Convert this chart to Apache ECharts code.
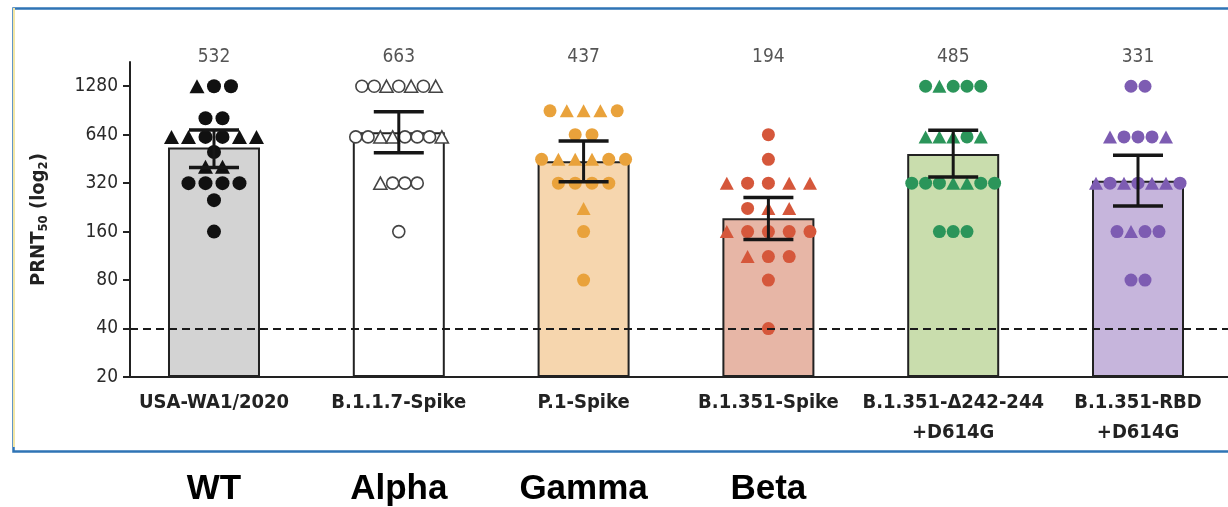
<!DOCTYPE html>
<html>
<head>
<meta charset="utf-8">
<script src="https://cdn.jsdelivr.net/npm/echarts@6/dist/echarts.min.js"></script>
<style>
  html, body { margin: 0; padding: 0; background: #ffffff; }
  #chart { width: 1228px; height: 507px; }
</style>
</head>
<body>
<div id="chart"></div>
<script>
// ---------------- DATA ----------------
const categories = ['USA-WA1/2020', 'B.1.1.7-Spike', 'P.1-Spike', 'B.1.351-Spike', 'B.1.351-\u0394242-244\n+D614G', 'B.1.351-RBD\n+D614G'];
const variantNames = ['WT', 'Alpha', 'Gamma', 'Beta'];
const meanTiters = [532, 663, 437, 194, 485, 331];
const errLow = [400, 494, 326, 143, 350, 231];
const errHigh = [684, 887, 585, 261, 682, 477];
const tickValues = [20, 40, 80, 160, 320, 640, 1280];
const thresholdTiter = 40;

// individual titers: [titer, shapes in row order] (C = circle, T = triangle)
const pointsWT = [[1280, 'TCC'], [810, 'CC'], [620, 'TTCCTT'], [500, 'C'], [404, 'TT'], [320, 'CCCC'], [251, 'C'], [160, 'C']];
const pointsAlpha = [[1280, 'CCTCTCT'], [620, 'CCTTCCCT'], [320, 'TCCC'], [160, 'C']];
const pointsGamma = [[900, 'CTTTC'], [640, 'CC'], [450, 'CTTTCC'], [320, 'CCCC'], [223, 'T'], [160, 'C'], [80, 'C']];
const pointsBeta = [[640, 'C'], [450, 'C'], [320, 'TCCTT'], [223, 'CTT'], [160, 'TCCCC'], [112, 'TCC'], [80, 'C'], [40, 'C']];
const pointsD242 = [[1280, 'CTCCC'], [620, 'TTTCT'], [320, 'CCCTTCC'], [160, 'CCC']];
const pointsRBD = [[1280, 'CC'], [620, 'TCCCT'], [320, 'TCTCTTC'], [160, 'CTCC'], [80, 'CC']];
const pointGroups = [pointsWT, pointsAlpha, pointsGamma, pointsBeta, pointsD242, pointsRBD];

// ---------------- STYLE ----------------
const barColors = ['#d3d3d3', '#ffffff', '#f6d6ae', '#e7b6a6', '#c9ddad', '#c6b5dc'];
const markerColors = ['#111111', '#444444', '#e9a23b', '#d5573b', '#2b955a', '#7d5cb2'];
const hollow = [false, true, false, false, false, false];
const markerSpacing = [17, 12.3, 16.8, 20.8, 13.8, 14];
const markerSize = [14, 12, 13, 13, 13, 13];
const condensed = '"DejaVu Sans Condensed", "Liberation Sans Narrow", "DejaVu Sans", sans-serif';

const base = tickValues[0];
const L = v => Math.log2(v / base);

// build scatter data (beeswarm rows computed from the data)
function buildPoints(ci) {
  const out = [];
  pointGroups[ci].forEach(([titer, shapes]) => {
    const n = shapes.length;
    for (let k = 0; k < n; k++) {
      const isTri = shapes[k] === 'T';
      out.push({
        value: [ci, L(titer)],
        symbol: isTri ? 'triangle' : 'circle',
        symbolSize: isTri ? [markerSize[ci] + 1, markerSize[ci]] : markerSize[ci],
        symbolOffset: [(k - (n - 1) / 2) * markerSpacing[ci], 0]
      });
    }
  });
  return out;
}

const scatterSeries = pointGroups.map((g, ci) => ({
  type: 'scatter',
  z: 3,
  data: buildPoints(ci),
  itemStyle: hollow[ci]
    ? { color: '#ffffff', borderColor: markerColors[ci], borderWidth: 1.6, opacity: 1 }
    : { color: markerColors[ci], opacity: 1 },
  emphasis: { disabled: true }
}));

const catIdx = categories.map((c, i) => i);
const xMin = -0.4545, xMax = 5.487;

const chart = echarts.init(document.getElementById('chart'), null, { renderer: 'canvas' });
chart.setOption({
  animation: false,
  backgroundColor: '#ffffff',
  graphic: [
    { type: 'rect', left: 11, top: 6, shape: { width: 1240, height: 443 }, style: { fill: 'none', stroke: '#2f74b5', lineWidth: 2.5 }, z: 100 },
    { type: 'line', shape: { x1: 14, y1: 8, x2: 14, y2: 447 }, style: { stroke: '#f2e6a6', lineWidth: 2 }, z: 100 }
  ],
  grid: { left: 130, right: 0, top: 62, bottom: 130, containLabel: false },
  xAxis: [
    {
      type: 'value', min: xMin, max: xMax,
      axisLine: { show: true, onZero: false, lineStyle: { color: '#222', width: 2 } },
      axisTick: { show: false },
      splitLine: { show: false },
      axisLabel: {
        customValues: catIdx,
        formatter: v => categories[Math.round(v)] || '',
        fontFamily: condensed, fontWeight: 'bold', fontSize: 20, color: '#222',
        lineHeight: 30, margin: 11
      }
    },
    {
      type: 'value', min: xMin, max: xMax, position: 'bottom', offset: 91,
      axisLine: { show: false, onZero: false }, axisTick: { show: false }, splitLine: { show: false },
      axisLabel: {
        customValues: variantNames.map((n, i) => i),
        formatter: v => variantNames[Math.round(v)] || '',
        fontFamily: '"Liberation Sans", Arial, sans-serif', fontWeight: 'bold', fontSize: 35, color: '#000',
        margin: 4
      }
    }
  ],
  yAxis: {
    type: 'value', min: 0, max: 6.5,
    name: '{b|PRNT}{s|50}{b| (log}{s|2}{b|)}',
    nameLocation: 'middle', nameGap: 80, nameRotate: 90,
    nameTextStyle: {
      rich: {
        b: { fontFamily: condensed, fontWeight: 'bold', fontSize: 20, color: '#222' },
        s: { fontFamily: condensed, fontWeight: 'bold', fontSize: 13, color: '#222', padding: [10, 0, 0, 0] }
      }
    },
    axisLine: { show: true, onZero: false, lineStyle: { color: '#222', width: 2 } },
    axisTick: { show: true, length: 7, customValues: tickValues.map(L), lineStyle: { color: '#222', width: 2 } },
    splitLine: { show: false },
    axisLabel: {
      customValues: tickValues.map(L),
      formatter: v => String(Math.round(base * Math.pow(2, v))),
      fontFamily: condensed, fontSize: 19, color: '#2a2a2a', margin: 12
    }
  },
  series: [
    {
      type: 'bar',
      z: 1,
      barWidth: 92,
      data: meanTiters.map((m, i) => ({
        value: [i, L(m)],
        itemStyle: { color: barColors[i], borderColor: '#222', borderWidth: 2 }
      })),
      emphasis: { disabled: true },
      markLine: {
        silent: true,
        symbol: ['none', 'none'],
        label: { show: false },
        lineStyle: { type: [8, 5], color: '#1a1a1a', width: 2 },
        data: [{ yAxis: L(thresholdTiter) }]
      }
    },
    ...scatterSeries,
    {
      type: 'custom',
      z: 4,
      data: meanTiters.map((m, i) => [i, L(errLow[i]), L(errHigh[i])]),
      encode: { x: 0, y: [1, 2] },
      renderItem: (params, api) => {
        const lo = api.coord([api.value(0), api.value(1)]);
        const hi = api.coord([api.value(0), api.value(2)]);
        const hw = 25;
        const st = { stroke: '#161616', lineWidth: 3.5 };
        return {
          type: 'group',
          children: [
            { type: 'line', shape: { x1: lo[0], y1: lo[1], x2: hi[0], y2: hi[1] }, style: { stroke: '#161616', lineWidth: 3 } },
            { type: 'line', shape: { x1: lo[0] - hw, y1: lo[1], x2: lo[0] + hw, y2: lo[1] }, style: st },
            { type: 'line', shape: { x1: hi[0] - hw, y1: hi[1], x2: hi[0] + hw, y2: hi[1] }, style: st }
          ]
        };
      }
    },
    {
      type: 'scatter',
      z: 5,
      symbolSize: 0,
      data: meanTiters.map((m, i) => [i, 6.5]),
      label: {
        show: true, position: 'inside', offset: [0, -5],
        formatter: p => String(meanTiters[p.dataIndex]),
        fontFamily: condensed, fontSize: 19, color: '#2a2a2a'
      },
      emphasis: { disabled: true }
    }
  ]
});
</script>
</body>
</html>
